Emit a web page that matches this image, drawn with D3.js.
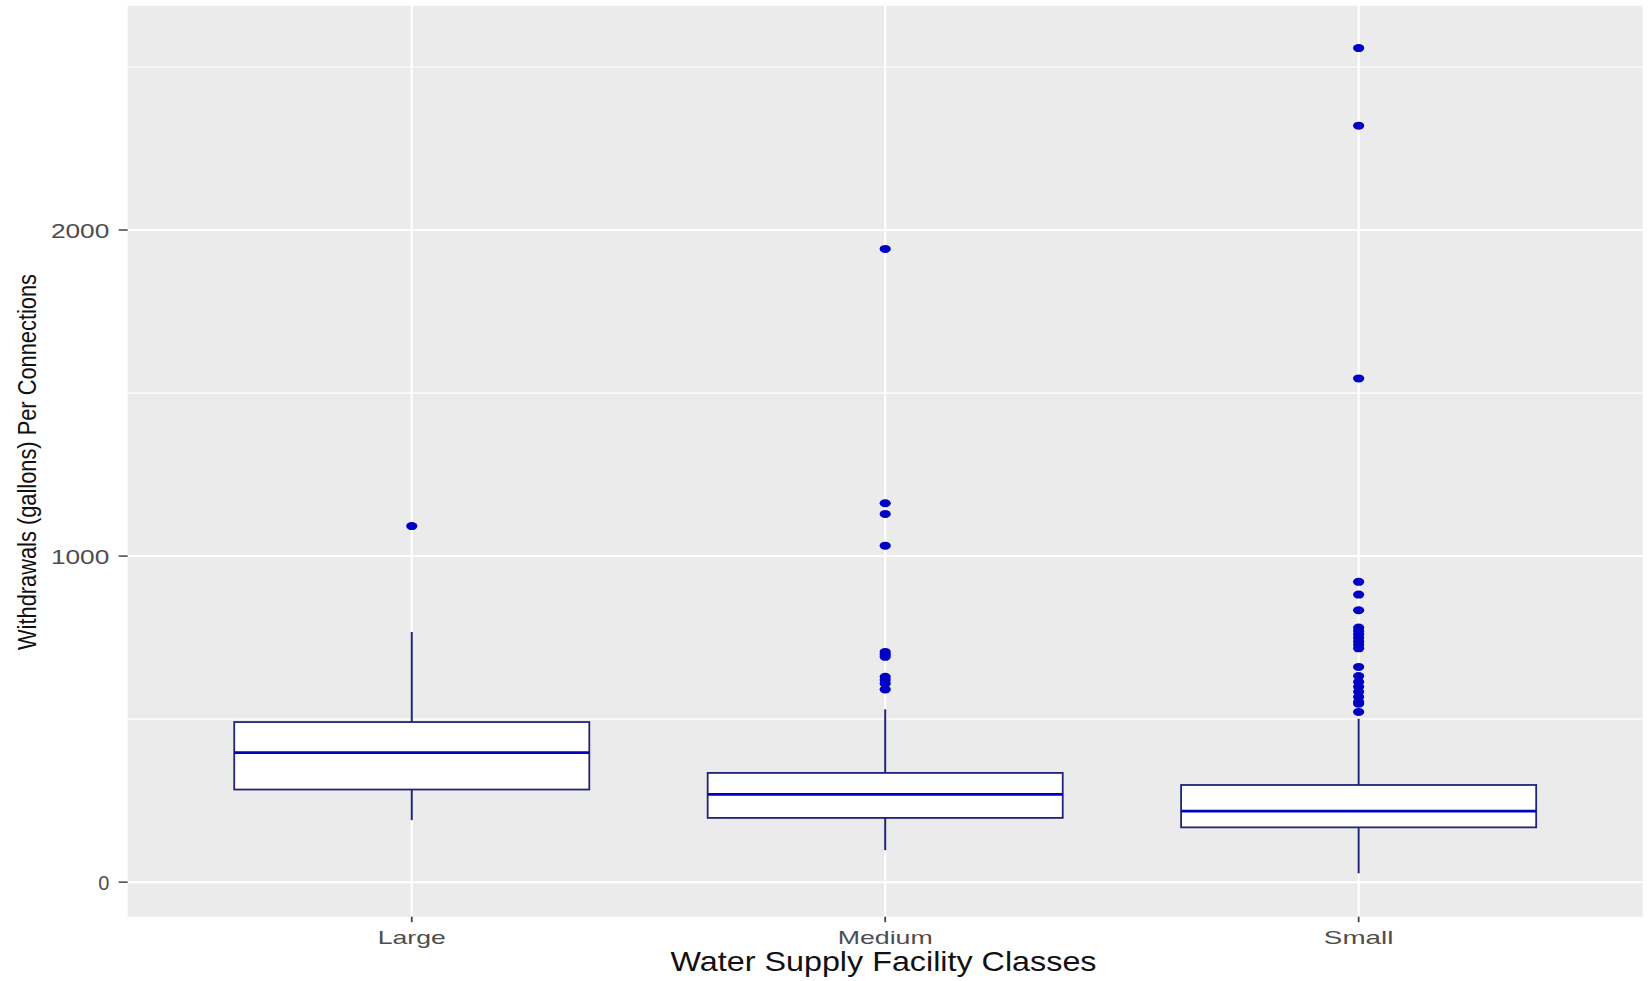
<!DOCTYPE html>
<html>
<head>
<meta charset="utf-8">
<script src="https://cdn.jsdelivr.net/npm/d3@7"></script>
<style>
  html, body { margin: 0; padding: 0; background: #fff; }
  svg { display: block; }
</style>
</head>
<body>
<div id="chart"></div>
<script>
// Box stats: [lower whisker, Q1, median, Q3, upper whisker]
const categories = ['Large', 'Medium', 'Small'];
const largeStats = [190, 284, 397, 491, 767];
const mediumStats = [98, 197, 269, 335, 530];
const smallStats = [27, 168, 218, 298, 501];
const largeOutliers = [1092];
const mediumOutliers = [1942, 1162, 1129, 1032, 706, 698, 691, 630, 620, 609, 591];
const smallOutliers = [2558, 2320, 1545, 921, 882, 834, 781, 770, 760, 749, 738, 728, 717,
  660, 632, 614, 599, 584, 568, 553, 547, 522];
const yTicks = [0, 1000, 2000];
const yMinorTicks = [500, 1500, 2500];

const W = 1648, H = 981;
const panel = { left: 127.7, right: 1642.7, top: 5.7, bottom: 916.7 };
const boxColor = '#23237e';
const medianColor = '#0000c4';

const boxes = [
  { cat: 'Large', s: largeStats, out: largeOutliers },
  { cat: 'Medium', s: mediumStats, out: mediumOutliers },
  { cat: 'Small', s: smallStats, out: smallOutliers }
];

const svg = d3.select('#chart').append('svg').attr('width', W).attr('height', H);

const x = d3.scalePoint().domain(categories).range([panel.left, panel.right]).padding(0.6);
const y = d3.scaleLinear().domain([-106, 2688]).range([panel.bottom, panel.top]);
const boxW = x.step() * 0.75;

// panel background + grid
svg.append('rect')
  .attr('x', panel.left).attr('y', panel.top)
  .attr('width', panel.right - panel.left).attr('height', panel.bottom - panel.top)
  .attr('fill', '#ebebeb');

svg.append('g').selectAll('line')
  .data(yMinorTicks)
  .join('line')
  .attr('x1', panel.left).attr('x2', panel.right)
  .attr('y1', d => y(d)).attr('y2', d => y(d))
  .attr('stroke', '#fff').attr('stroke-width', 1.2);

svg.append('g').selectAll('line')
  .data(yTicks)
  .join('line')
  .attr('x1', panel.left).attr('x2', panel.right)
  .attr('y1', d => y(d)).attr('y2', d => y(d))
  .attr('stroke', '#fff').attr('stroke-width', 2);

svg.append('g').selectAll('line')
  .data(categories)
  .join('line')
  .attr('x1', d => x(d)).attr('x2', d => x(d))
  .attr('y1', panel.top).attr('y2', panel.bottom)
  .attr('stroke', '#fff').attr('stroke-width', 2.2);

// boxplots
const g = svg.append('g').selectAll('g').data(boxes).join('g');

// whiskers
g.append('line')
  .attr('x1', d => x(d.cat)).attr('x2', d => x(d.cat))
  .attr('y1', d => y(d.s[3])).attr('y2', d => y(d.s[4]))
  .attr('stroke', boxColor).attr('stroke-width', 2);
g.append('line')
  .attr('x1', d => x(d.cat)).attr('x2', d => x(d.cat))
  .attr('y1', d => y(d.s[1])).attr('y2', d => y(d.s[0]))
  .attr('stroke', boxColor).attr('stroke-width', 2);

g.append('rect')
  .attr('x', d => x(d.cat) - boxW / 2)
  .attr('width', boxW)
  .attr('y', d => y(d.s[3]))
  .attr('height', d => y(d.s[1]) - y(d.s[3]))
  .attr('fill', '#fff')
  .attr('stroke', boxColor).attr('stroke-width', 1.8);

g.append('line')
  .attr('x1', d => x(d.cat) - boxW / 2).attr('x2', d => x(d.cat) + boxW / 2)
  .attr('y1', d => y(d.s[2])).attr('y2', d => y(d.s[2]))
  .attr('stroke', medianColor).attr('stroke-width', 2.8);

// outliers
g.selectAll('ellipse')
  .data(d => d.out.map(v => ({ cat: d.cat, v })))
  .join('ellipse')
  .attr('cx', d => x(d.cat))
  .attr('cy', d => y(d.v))
  .attr('rx', 5.6).attr('ry', 4)
  .attr('fill', medianColor);

// y axis
const yAxis = svg.append('g');
yAxis.selectAll('line')
  .data(yTicks)
  .join('line')
  .attr('x1', panel.left - 9).attr('x2', panel.left)
  .attr('y1', d => y(d)).attr('y2', d => y(d))
  .attr('stroke', '#444').attr('stroke-width', 1.5);
yAxis.selectAll('text')
  .data(yTicks)
  .join('text')
  .attr('x', 109.3)
  .attr('y', d => y(d) + 8.3)
  .attr('text-anchor', 'end')
  .attr('font-family', 'Liberation Sans, Arial, sans-serif')
  .attr('font-size', 20)
  .attr('fill', '#4d4d4d')
  .attr('textLength', d => String(d).length > 1 ? 14.6 * String(d).length : null)
  .attr('lengthAdjust', 'spacingAndGlyphs')
  .text(d => d);

// x axis
const xAxis = svg.append('g');
xAxis.selectAll('line')
  .data(categories)
  .join('line')
  .attr('x1', d => x(d)).attr('x2', d => x(d))
  .attr('y1', panel.bottom).attr('y2', panel.bottom + 5.5)
  .attr('stroke', '#444').attr('stroke-width', 1.8);
const xLabelWidth = { Large: 68, Medium: 95, Small: 69.5 };
xAxis.selectAll('text')
  .data(categories)
  .join('text')
  .attr('x', d => x(d))
  .attr('y', 944.3)
  .attr('text-anchor', 'middle')
  .attr('font-family', 'Liberation Sans, Arial, sans-serif')
  .attr('font-size', 18.6)
  .attr('fill', '#4d4d4d')
  .attr('textLength', d => xLabelWidth[d])
  .attr('lengthAdjust', 'spacingAndGlyphs')
  .text(d => d);

// axis titles
svg.append('text')
  .attr('x', 883.5)
  .attr('y', 970.7)
  .attr('text-anchor', 'middle')
  .attr('font-family', 'Liberation Sans, Arial, sans-serif')
  .attr('font-size', 28)
  .attr('fill', '#111')
  .attr('textLength', 426)
  .attr('lengthAdjust', 'spacingAndGlyphs')
  .text('Water Supply Facility Classes');

svg.append('text')
  .attr('transform', 'translate(36.3,462) rotate(-90)')
  .attr('text-anchor', 'middle')
  .attr('font-family', 'Liberation Sans Narrow, Arial Narrow, Liberation Sans, sans-serif')
  .attr('font-size', 25)
  .attr('fill', '#111')
  .attr('textLength', 376)
  .attr('lengthAdjust', 'spacingAndGlyphs')
  .text('Withdrawals (gallons) Per Connections');
</script>
</body>
</html>
